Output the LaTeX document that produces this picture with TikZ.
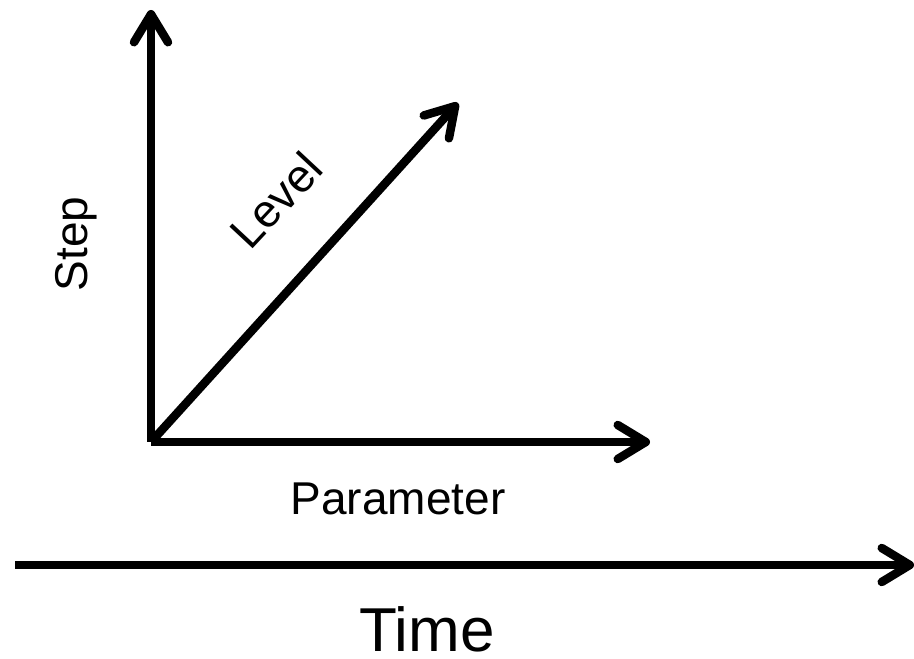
\documentclass[tikz,border=0pt]{standalone}
\usepackage{fontspec}
\setmainfont{Liberation Sans}
\usetikzlibrary{arrows.meta}
\tikzset{
  axis/.style={line width=8.5pt, -{Straight Barb[length=28pt, width=34pt, round]}},
  lbl/.style={inner sep=0pt, font=\fontsize{46}{50}\selectfont},
  biglbl/.style={inner sep=0pt, font=\fontsize{62}{66}\selectfont}
}
\begin{document}
\begin{tikzpicture}[x=1pt,y=1pt]
\useasboundingbox (0,0) rectangle (914,659);
\coordinate (O) at (151,217);
\coordinate (stepTip) at (151,649);
\coordinate (parTip) at (650,217);
\coordinate (levTip) at (458,556);
\coordinate (tStart) at (15,94);
\coordinate (tEnd) at (914,94);
\draw[axis] (O) -- (stepTip);
\draw[axis] (O) -- (parTip);
\draw[axis] (O) -- (levTip);
\draw[axis] (tStart) -- (tEnd);
\node[lbl, anchor=base] (par) at (398,144) {Parameter};
\node[biglbl, anchor=base] (time) at (427,7) {Time};
\node[lbl, rotate=90, anchor=base] (step) at (87,415) {Step};
\node[lbl, rotate=47] (lev) at (276,459) {Level};
\end{tikzpicture}
\end{document}
